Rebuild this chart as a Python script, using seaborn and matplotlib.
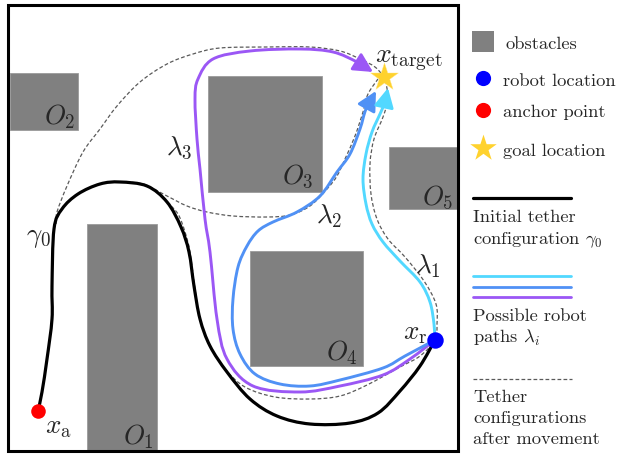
"""
Tethered robot path diagram - obstacles, initial tether, candidate paths.
Coordinates are in image pixels (y grows downward).
"""

import numpy as np
import matplotlib
matplotlib.use("Agg")
import matplotlib.pyplot as plt
from matplotlib.path import Path
from matplotlib.patches import PathPatch, FancyArrowPatch, Rectangle
import seaborn as sns

# obstacles (left, top, width, height)
obs_names = ['$O_1$', '$O_2$', '$O_3$', '$O_4$', '$O_5$']
obs_x0 = [87, 10, 208, 250, 389]
obs_y0 = [225, 74, 77, 252, 148]
obs_w = [70, 68, 114, 113, 69]
obs_h = [227, 57, 116, 115, 62]
obs_lab_x = [138, 60, 298, 342, 438]
obs_lab_y = [437, 117, 176, 353, 197]

# key points
anchor = (38, 412)
robot = (435, 341)
target = (384, 78)

# initial tether gamma_0
gamma0_x = [38, 42, 47, 52, 52, 54, 62, 78, 100, 120, 147, 167, 181, 189, 194,
            200, 210, 227, 250, 277, 310, 350, 378, 400, 420, 435]
gamma0_y = [412, 393, 360, 320, 287, 230, 210, 195, 185, 183, 187, 203, 228, 253, 287,
            320, 347, 373, 400, 417, 425, 424, 414, 392, 367, 341]

# robot paths lambda_1..3
lam1_x = [435, 434, 430, 420, 400, 383, 372, 366, 363, 366, 372, 380, 385, 388]
lam1_y = [342, 325, 303, 283, 262, 243, 225, 205, 180, 155, 133, 115, 103, 89]
lam2_x = [435, 405, 383, 340, 310, 280, 255, 240, 233, 233, 238, 247, 258, 273,
          297, 320, 337, 350, 360, 366, 376]
lam2_y = [341, 357, 369, 381, 387, 385, 375, 355, 330, 300, 268, 247, 232, 223,
          213, 197, 173, 155, 130, 110, 92]
lam3_x = [435, 410, 383, 340, 300, 253, 227, 217, 210, 205, 200, 197, 195, 198,
          213, 250, 300, 333, 357, 373]
lam3_y = [341, 360, 376, 387, 393, 387, 360, 320, 253, 220, 170, 140, 100, 80,
          60, 52, 50, 53, 63, 73]

# tether configurations after movement
teth3_x = [56, 57, 67, 83, 100, 117, 140, 167, 193, 220, 267, 310, 340, 360, 375, 384]
teth3_y = [225, 213, 187, 153, 130, 107, 83, 65, 55, 49, 48, 48, 52, 60, 68, 78]
teth2_x = [120, 143, 167, 187, 207, 233, 267, 290, 310, 327, 337, 345, 355, 363, 368, 378]
teth2_y = [183, 185, 197, 207, 213, 217, 218, 216, 207, 190, 177, 160, 137, 113, 95, 80]
teth1_x = [167, 178, 185, 190, 195, 200, 210, 225, 245, 275, 310, 340, 367, 400, 420,
           435, 437, 436, 424, 405, 388, 377, 371, 370, 374, 383, 388, 386]
teth1_y = [203, 215, 233, 253, 290, 320, 347, 370, 388, 398, 400, 397, 386, 368, 357,
           341, 325, 305, 282, 258, 240, 220, 195, 165, 140, 118, 100, 84]

c_cyan = '#52D8FF'
c_blue = '#5091F5'
c_purple = '#9B57F5'
c_dash = '#5a5a5a'


def smooth_path(xs, ys):
    # Catmull-Rom through the read points, handed to matplotlib as cubic beziers
    pts = np.column_stack([xs, ys]).astype(float)
    ext = np.vstack([pts[0], pts, pts[-1]])
    verts = [pts[0]]
    codes = [Path.MOVETO]
    for i in range(len(pts) - 1):
        p0, p1, p2, p3 = ext[i], ext[i + 1], ext[i + 2], ext[i + 3]
        verts += [p1 + (p2 - p0) / 6, p2 - (p3 - p1) / 6, p2]
        codes += [Path.CURVE4] * 3
    return Path(verts, codes)


sns.set_style('white')
plt.rcParams['mathtext.fontset'] = 'cm'
plt.rcParams['font.family'] = ['cmr10', 'DejaVu Serif']
plt.rcParams['axes.formatter.use_mathtext'] = True

fig = plt.figure(figsize=(6.19, 4.56), dpi=100)
ax = fig.add_axes([0, 0, 1, 1])
ax.set_xlim(0, 619)
ax.set_ylim(456, 0)
ax.axis('off')

mfs = 19.5  # math label size

# obstacles
for name, x0, y0, w, h, lx, ly in zip(obs_names, obs_x0, obs_y0, obs_w, obs_h,
                                      obs_lab_x, obs_lab_y):
    ax.add_patch(Rectangle((x0, y0), w, h, fc='#808080', ec='#9a9a9a', lw=0.6, zorder=1))
    ax.text(lx, ly, name, fontsize=mfs, ha='center', va='center', zorder=7)

# workspace border
ax.add_patch(Rectangle((8, 6), 450, 446, fill=False, ec='black', lw=2.2, zorder=8))

# dashed tethers after movement
for tx, ty in [(teth1_x, teth1_y), (teth2_x, teth2_y), (teth3_x, teth3_y)]:
    ax.add_patch(PathPatch(smooth_path(tx, ty), fill=False, ec=c_dash, lw=0.9,
                           linestyle=(0, (3, 1.8)), zorder=2))

# initial tether
ax.add_patch(PathPatch(smooth_path(gamma0_x, gamma0_y), fill=False, ec='black',
                       lw=2.3, capstyle='round', zorder=3))

# robot paths with arrow heads
for px, py, col in [(lam3_x, lam3_y, c_purple), (lam2_x, lam2_y, c_blue),
                    (lam1_x, lam1_y, c_cyan)]:
    arr = FancyArrowPatch(path=smooth_path(px, py),
                          arrowstyle='-|>,head_length=0.58,head_width=0.3',
                          mutation_scale=20, color=col, lw=2.1, zorder=4)
    ax.add_patch(arr)

# points
sns.scatterplot(x=[anchor[0]], y=[anchor[1]], color='#FF0000', s=110,
                linewidth=0, zorder=6, ax=ax)
sns.scatterplot(x=[robot[0]], y=[robot[1]], color='#0000FF', s=140,
                linewidth=0, zorder=6, ax=ax)
sns.scatterplot(x=[target[0]], y=[target[1]], color='#FFD22E', marker='*', s=440,
                linewidth=0.3, edgecolor='#FFE680', zorder=6, ax=ax)

# labels on the map
ax.text(38, 238, r'$\gamma_0$', fontsize=mfs, ha='center', va='center')
ax.text(58, 428, r'$x_{\mathrm{a}}$', fontsize=mfs, ha='center', va='center')
ax.text(415, 334, r'$x_{\mathrm{r}}$', fontsize=mfs, ha='center', va='center')
ax.text(409, 60, r'$x_{\mathrm{target}}$', fontsize=20, ha='center', va='center')
ax.text(428, 266, r'$\lambda_1$', fontsize=mfs, ha='center', va='center')
ax.text(329, 216, r'$\lambda_2$', fontsize=mfs, ha='center', va='center')
ax.text(179, 148, r'$\lambda_3$', fontsize=mfs, ha='center', va='center')

# legend
fs = 13.3
ax.add_patch(Rectangle((472, 32), 22, 21, fc='#808080', ec='none'))
ax.text(505, 49, 'obstacles', fontsize=fs, va='baseline')
sns.scatterplot(x=[483], y=[79], color='#0000FF', s=120, linewidth=0, ax=ax)
ax.text(503, 86, 'robot location', fontsize=fs, va='baseline')
sns.scatterplot(x=[483], y=[111], color='#FF0000', s=120, linewidth=0, ax=ax)
ax.text(503, 117, 'anchor point', fontsize=fs, va='baseline')
sns.scatterplot(x=[483], y=[149], color='#FFD22E', marker='*', s=400,
                linewidth=0, ax=ax)
ax.text(503, 156, 'goal location', fontsize=fs, va='baseline')

ax.plot([473, 571], [199, 199], color='black', lw=2.3)
ax.text(473, 222, 'Initial tether', fontsize=fs, va='baseline')
ax.text(473, 244, r'configuration $\gamma_0$', fontsize=fs, va='baseline')

for yy, col in [(277, c_cyan), (288, c_blue), (298, c_purple)]:
    ax.plot([473, 571], [yy, yy], color=col, lw=2.0)
ax.text(473, 321, 'Possible robot', fontsize=fs, va='baseline')
ax.text(473, 343, r'paths $\lambda_i$', fontsize=fs, va='baseline')

ax.plot([473, 572], [380, 380], color=c_dash, lw=0.9, linestyle=(0, (3, 1.8)))
ax.text(473, 402, 'Tether', fontsize=fs, va='baseline')
ax.text(473, 423, 'configurations', fontsize=fs, va='baseline')
ax.text(473, 444, 'after movement', fontsize=fs, va='baseline')

fig.savefig('out.png', dpi=100)
